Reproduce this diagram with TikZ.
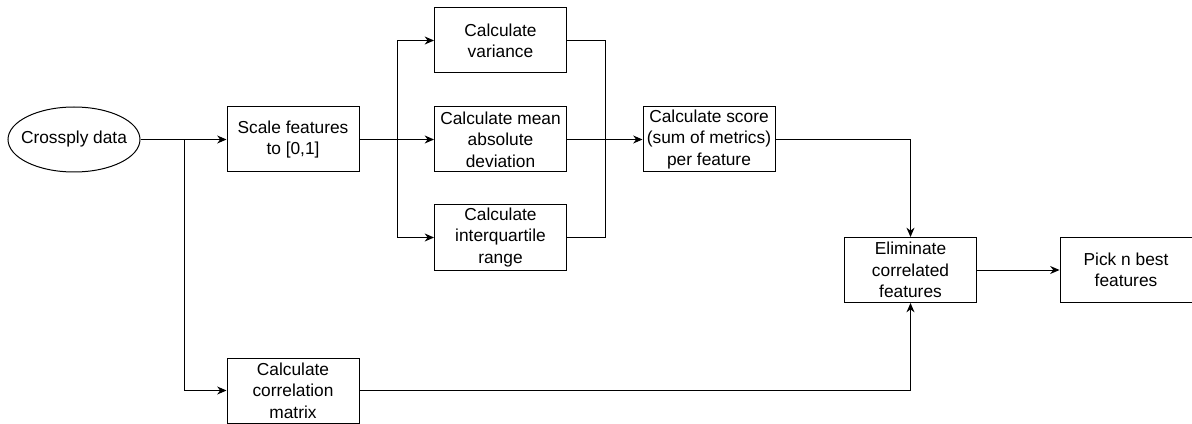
\documentclass[tikz,border=0pt]{standalone}
\usepackage{fontspec}
\setmainfont{Liberation Sans}
\usetikzlibrary{arrows.meta,shapes.geometric}

\begin{document}
\begin{tikzpicture}
  [x=0.75pt,y=-0.75pt,line width=0.75pt,>={Stealth[length=7pt,width=6pt]},
   every node/.style={draw,align=center,inner sep=0pt,
     minimum width=99pt,minimum height=48.75pt,
     font=\fontsize{13}{16}\selectfont},
   start/.style={ellipse,inner xsep=-12pt}]
  \useasboundingbox (0,0) rectangle (1192,424);
  \node[start] (data) at (74,139.5) {Crossply data};
  \node (scale) at (293,139.5) {Scale features\\to [0,1]};
  \node (var) at (500.5,40.5) {Calculate\\variance};
  \node (mad) at (500.5,139.5) {Calculate mean\\absolute\\deviation};
  \node (iqr) at (500.5,237.5) {Calculate\\interquartile\\range};
  \node (score) at (709,139.5) {Calculate score\\(sum of metrics)\\per feature};
  \node (corr) at (293,390.5) {Calculate\\correlation\\matrix};
  \node (elim) at (910.5,270) {Eliminate\\correlated\\features};
  \node (pick) at (1126,270) {Pick n best\\features};
  \coordinate (split) at (184,139.5);
  \coordinate (fork) at (397,139.5);
  \coordinate (join) at (605,139.5);
  \draw[->] (data) -- (scale);
  \draw[->] (split) |- (corr);
  \draw (scale) -- (fork);
  \foreach \to in {var,mad,iqr}
    \draw[->] (fork) |- (\to);
  \foreach \from in {var,iqr}
    \draw (\from) -| (join);
  \draw[->] (mad) -- (score);
  \draw[->] (score) -| (elim);
  \draw[->] (corr) -| (elim);
  \draw[->] (elim) -- (pick);
\end{tikzpicture}
\end{document}
